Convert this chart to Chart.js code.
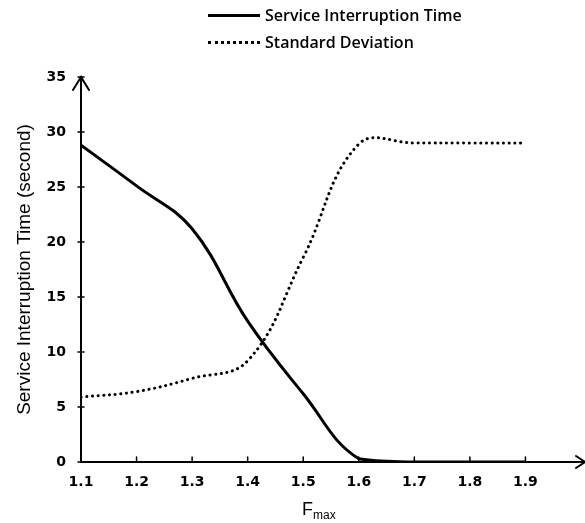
<!DOCTYPE html>
<html>
<head>
<meta charset="utf-8">
<script src="https://cdn.jsdelivr.net/npm/chart.js@4/dist/chart.umd.min.js"></script>
<style>
  body { margin: 0; background: #fff; }
  #wrap { position: relative; width: 585px; height: 523px; }
  .legend-row { position: absolute; left: 208px; height: 20px; display: flex; align-items: center;
    font-family: "Open Sans", sans-serif; font-weight: 600; font-size: 16px; color: #000; }
  .legend-row .swatch { width: 52px; margin-right: 5px; }
  #xtitle { position: absolute; left: 302px; top: 499px; font-family: "Liberation Sans", Arial, sans-serif;
    font-size: 18px; color: #000; }
  #xtitle sub { font-size: 12px; vertical-align: -4px; }
</style>
</head>
<body>
<div id="wrap">
  <canvas id="chart" width="585" height="523"></canvas>
  <div class="legend-row" style="top:5px"><span class="swatch" style="border-top:3px solid #000"></span>Service Interruption Time</div>
  <div class="legend-row" style="top:32px"><span class="swatch" style="border-top:3px dotted #000"></span>Standard Deviation</div>
  <div id="xtitle">F<sub>max</sub></div>
</div>
<script>
var fmax = [1.1, 1.2, 1.3, 1.4, 1.5, 1.6, 1.7, 1.8, 1.9];
var interruptionTime = [28.8, 25.1, 21.2, 12.8, 6.2, 0.3, 0, 0, 0];
var standardDeviation = [5.9, 6.4, 7.6, 9.2, 18.6, 28.9, 29.0, 29.0, 29.0];
var xTicks = [1.1, 1.2, 1.3, 1.4, 1.5, 1.6, 1.7, 1.8, 1.9];
var yTicks = [0, 5, 10, 15, 20, 25, 30, 35];

function points(values) {
  return fmax.map(function(x, i) { return {x: x, y: values[i]}; });
}

var tickFont = {family: 'DejaVu Sans', size: 14, weight: 'bold'};

// axes with arrow heads and small tick marks
var axesPlugin = {
  id: 'axes',
  afterDatasetsDraw: function(chart) {
    var ctx = chart.ctx;
    var xs = chart.scales.x, ys = chart.scales.y;
    var x0 = xs.getPixelForValue(1.1), y0 = ys.getPixelForValue(0);
    var yTop = ys.getPixelForValue(35);
    var xEnd = xs.getPixelForValue(2.0) + 4;
    ctx.save();
    ctx.strokeStyle = '#000';
    ctx.lineWidth = 2;
    ctx.lineCap = 'round';
    ctx.beginPath();
    ctx.moveTo(x0, y0); ctx.lineTo(x0, yTop);
    ctx.moveTo(x0, y0); ctx.lineTo(xEnd, y0);
    // arrows
    ctx.moveTo(x0 - 8, yTop + 13); ctx.lineTo(x0, yTop); ctx.lineTo(x0 + 8, yTop + 13);
    ctx.moveTo(xEnd - 9, y0 - 6); ctx.lineTo(xEnd, y0); ctx.lineTo(xEnd - 9, y0 + 6);
    ctx.stroke();
    ctx.lineWidth = 1.5;
    ctx.beginPath();
    xTicks.forEach(function(v) {
      var px = xs.getPixelForValue(v);
      ctx.moveTo(px, y0); ctx.lineTo(px, y0 - 5);
    });
    yTicks.forEach(function(v) {
      var py = ys.getPixelForValue(v);
      ctx.moveTo(x0 - 3, py); ctx.lineTo(x0 + 3, py);
    });
    ctx.stroke();
    ctx.restore();
  }
};

new Chart(document.getElementById('chart'), {
  type: 'line',
  data: {
    datasets: [{
      label: 'Service Interruption Time',
      data: points(interruptionTime),
      borderColor: '#000',
      borderWidth: 3,
      pointRadius: 0,
      tension: 0.4,
      fill: false
    }, {
      label: 'Standard Deviation',
      data: points(standardDeviation),
      borderColor: '#000',
      borderWidth: 3,
      borderDash: [0.1, 5.6],
      borderCapStyle: 'round',
      pointRadius: 0,
      tension: 0.4,
      fill: false
    }]
  },
  options: {
    responsive: false,
    animation: false,
    devicePixelRatio: 1,
    layout: {padding: {top: 77, right: 4, left: 0, bottom: 0}},
    plugins: {legend: {display: false}, tooltip: {enabled: false}},
    scales: {
      x: {
        type: 'linear', min: 1.1, max: 2.0,
        afterBuildTicks: function(s) { s.ticks = xTicks.map(function(v) { return {value: v}; }); },
        afterFit: function(s) { s.height = 61; },
        ticks: {font: tickFont, color: '#000', padding: 12, maxRotation: 0, autoSkip: false,
          callback: function(v) { return v.toFixed(1); }},
        grid: {display: false, drawTicks: false},
        border: {display: false}
      },
      y: {
        min: 0, max: 35,
        afterBuildTicks: function(s) { s.ticks = yTicks.map(function(v) { return {value: v}; }); },
        afterFit: function(s) { s.width = 81; },
        ticks: {font: tickFont, color: '#000', padding: 15},
        grid: {display: false, drawTicks: false},
        border: {display: false},
        title: {display: true, text: 'Service Interruption Time (second)', color: '#000',
          font: {family: 'Liberation Sans', size: 19}, padding: {top: 13, bottom: 0}}
      }
    }
  },
  plugins: [axesPlugin]
});
</script>
</body>
</html>
